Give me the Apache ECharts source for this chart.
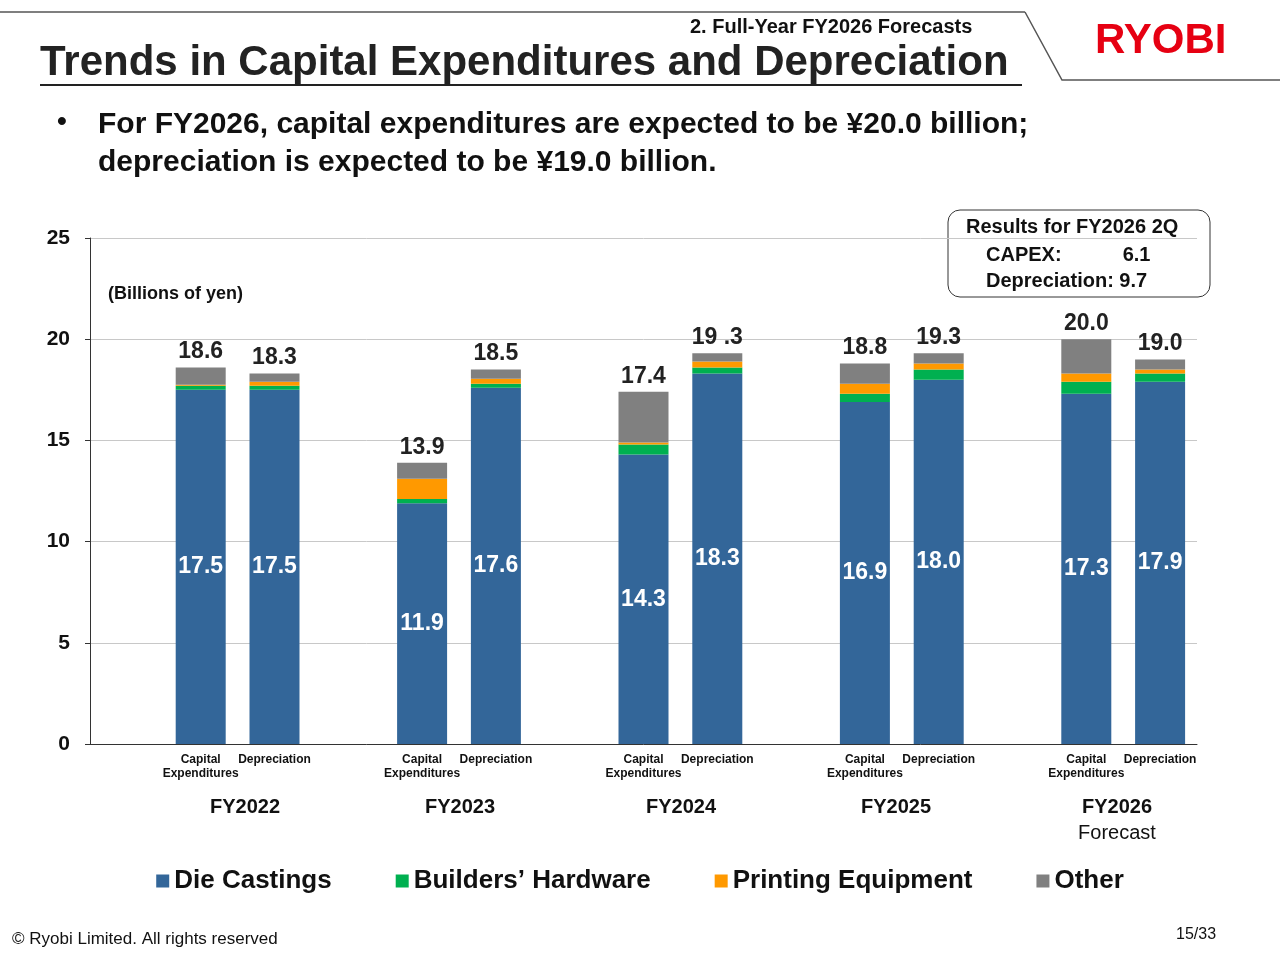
<!DOCTYPE html>
<html><head><meta charset="utf-8">
<script src="https://cdn.jsdelivr.net/npm/echarts@6/dist/echarts.min.js"></script>
<style>body{margin:0;background:#fff}#c{width:1280px;height:960px}</style></head>
<body><div id="c"></div>
<script>
// slots: blank, capex, dep for each year
const slots = ['', 'cap', 'dep', '', 'cap', 'dep', '', 'cap', 'dep', '', 'cap', 'dep', '', 'cap', 'dep'];
const years = ['FY2022', 'FY2023', 'FY2024', 'FY2025', 'FY2026'];
const dieCastings = [null, 17.5, 17.5, null, 11.9, 17.6, null, 14.3, 18.3, null, 16.9, 18.0, null, 17.3, 17.9];
const buildersHardware = [null, 0.2, 0.2, null, 0.2, 0.2, null, 0.5, 0.3, null, 0.4, 0.5, null, 0.6, 0.4];
const printingEquipment = [null, 0.05, 0.2, null, 1.0, 0.25, null, 0.1, 0.3, null, 0.5, 0.3, null, 0.4, 0.2];
const other = [null, 0.85, 0.4, null, 0.8, 0.45, null, 2.5, 0.4, null, 1.0, 0.5, null, 1.7, 0.5];
const totals = [null, '18.6', '18.3', null, '13.9', '18.5', null, '17.4', '19 .3', null, '18.8', '19.3', null, '20.0', '19.0'];

const chart = echarts.init(document.getElementById('c'));
const F = 'Arial, "Liberation Sans", sans-serif';
const base = {type: 'bar', stack: 's', barWidth: 50};
const yearX = [245, 460, 681, 896, 1117];
const graphic = [
  {type: 'line', shape: {x1: 0, y1: 12, x2: 1025, y2: 12}, style: {stroke: '#555', lineWidth: 1.5}},
  {type: 'polyline', shape: {points: [[1025, 12], [1062, 80], [1280, 80]]}, style: {stroke: '#555', lineWidth: 1.5, fill: null}},
  {type: 'text', x: 690, y: 17, style: {text: '2. Full-Year FY2026 Forecasts', font: 'bold 20px ' + F, fill: '#111'}},
  {type: 'text', x: 40, y: 42, style: {text: 'Trends in Capital Expenditures and Depreciation', font: 'bold 42px ' + F, fill: '#222'}},
  {type: 'line', shape: {x1: 40, y1: 85, x2: 1022, y2: 85}, style: {stroke: '#222', lineWidth: 2}},
  {type: 'text', x: 1095, y: 20, style: {text: 'RYOBI', font: '900 42px ' + F, fill: '#e60012'}},
  {type: 'text', x: 57, y: 108, style: {text: '•', font: 'bold 28px ' + F, fill: '#111'}},
  {type: 'text', x: 98, y: 106, style: {text: 'For FY2026, capital expenditures are expected to be ¥20.0 billion;\ndepreciation is expected to be ¥19.0 billion.', font: 'bold 30px ' + F, fill: '#111', lineHeight: 38}},
  {type: 'text', x: 108, y: 285, style: {text: '(Billions of yen)', font: 'bold 18px ' + F, fill: '#111'}},
  {type: 'rect', shape: {x: 948, y: 210, width: 262, height: 87, r: 12}, style: {fill: '#fff', stroke: '#333', lineWidth: 1}},
  {type: 'text', x: 966, y: 217, style: {text: 'Results for FY2026 2Q', font: 'bold 20px ' + F, fill: '#111'}},
  {type: 'text', x: 986, y: 242, style: {text: 'CAPEX:           6.1\nDepreciation: 9.7', font: 'bold 20px ' + F, fill: '#111', lineHeight: 26}},
  {type: 'text', x: 12, y: 931, style: {text: '© Ryobi Limited. All rights reserved', font: '17px ' + F, fill: '#111'}},
  {type: 'text', x: 1176, y: 927, style: {text: '15/33', font: '16px ' + F, fill: '#111'}}
];
years.forEach((y, i) => {
  graphic.push({type: 'text', x: yearX[i], y: 797, style: {text: y, font: 'bold 20px ' + F, fill: '#111', textAlign: 'center'}});
});
graphic.push({type: 'text', x: 1117, y: 823, style: {text: 'Forecast', font: '20px ' + F, fill: '#111', textAlign: 'center'}});

chart.setOption({
  animation: false,
  textStyle: {fontFamily: F},
  grid: {left: 90, right: 83, top: 238, bottom: 216},
  graphic,
  legend: {
    bottom: 61, left: 'center', itemGap: 64, itemWidth: 13, itemHeight: 13, icon: 'rect',
    textStyle: {fontSize: 26, fontWeight: 'bold', color: '#111', fontFamily: F},
    data: ['Die Castings', 'Builders’ Hardware', 'Printing Equipment', 'Other']
  },
  xAxis: {
    type: 'category', data: slots,
    axisLine: {lineStyle: {color: '#333'}}, axisTick: {show: false},
    axisLabel: {interval: 0, fontSize: 12, fontWeight: 'bold', color: '#111', lineHeight: 14, margin: 9,
      formatter: v => v === 'cap' ? 'Capital\nExpenditures' : v === 'dep' ? 'Depreciation' : ''}
  },
  yAxis: {
    type: 'value', min: 0, max: 25, interval: 5,
    axisLine: {show: true, lineStyle: {color: '#333'}}, axisTick: {show: true, inside: false, length: 5},
    axisLabel: {fontSize: 21, fontWeight: 'bold', color: '#111', margin: 20},
    splitLine: {lineStyle: {color: '#c8c8c8'}}
  },
  series: [
    Object.assign({}, base, {name: 'Die Castings', data: dieCastings, itemStyle: {color: '#336699'},
      label: {show: true, position: 'inside', color: '#fff', fontSize: 23, fontWeight: 'bold', formatter: p => p.value == null ? '' : p.value.toFixed(1)}}),
    Object.assign({}, base, {name: 'Builders’ Hardware', data: buildersHardware, itemStyle: {color: '#00b050'}}),
    Object.assign({}, base, {name: 'Printing Equipment', data: printingEquipment, itemStyle: {color: '#ff9900'}}),
    Object.assign({}, base, {name: 'Other', data: other, itemStyle: {color: '#808080'},
      label: {show: true, position: 'top', color: '#222', fontSize: 23, fontWeight: 'bold', distance: 4,
        formatter: p => totals[p.dataIndex] || ''}})
  ]
});
</script></body></html>
